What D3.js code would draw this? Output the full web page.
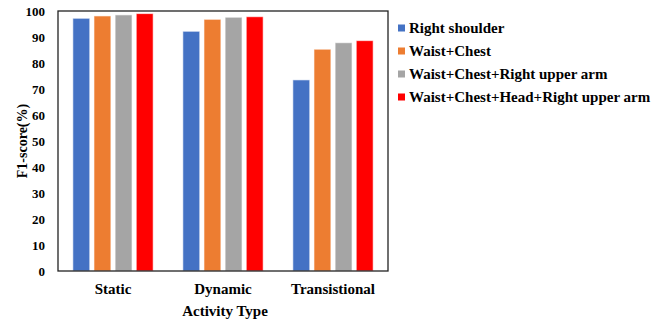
<!DOCTYPE html>
<html><head><meta charset="utf-8">
<script src="https://cdn.jsdelivr.net/npm/d3@7"></script>
<style>body{margin:0;background:#fff}svg{display:block}svg text{font-family:'Liberation Serif',serif !important;font-weight:bold;fill:#000}</style>
</head><body><svg id="c" width="665" height="323"></svg>
<script>
const categories = ["Static", "Dynamic", "Transistional"];
const seriesNames = ["Right shoulder", "Waist+Chest", "Waist+Chest+Right upper arm", "Waist+Chest+Head+Right upper arm"];
const seriesColors = ["#4472C4", "#ED7D31", "#A5A5A5", "#FF0000"];
const rightShoulder = [97.2, 92.2, 73.5];
const waistChest = [98.1, 96.8, 85.3];
const waistChestArm = [98.5, 97.6, 87.8];
const waistChestHeadArm = [99.0, 97.8, 88.6];
const yTicks = [0, 10, 20, 30, 40, 50, 60, 70, 80, 90, 100];
const seriesValues = [rightShoulder, waistChest, waistChestArm, waistChestHeadArm];

const FONT = "'Liberation Serif', serif";
const svg = d3.select("#c");
const m = {l: 58, t: 11, r: 388, b: 271};
const x0 = d3.scaleBand().domain(categories).range([m.l, m.r]).paddingInner(0.27).paddingOuter(0.135);
const x1 = d3.scaleBand().domain(seriesNames).range([0, x0.bandwidth()]).paddingInner(0.2).paddingOuter(0);
const y = d3.scaleLinear().domain([0, 100]).range([m.b, m.t]);

const g = svg.append("g");
categories.forEach((c, ci) => {
  seriesNames.forEach((s, si) => {
    g.append("rect")
      .attr("x", x0(c) + x1(s))
      .attr("y", y(seriesValues[si][ci]))
      .attr("width", x1.bandwidth())
      .attr("height", y(0) - y(seriesValues[si][ci]))
      .attr("fill", seriesColors[si])
      .attr("stroke", "#fff").attr("stroke-opacity", 0.6).attr("stroke-width", 1);
  });
});

svg.append("rect").attr("x", m.l).attr("y", m.t).attr("width", m.r - m.l).attr("height", m.b - m.t)
  .attr("fill", "none").attr("stroke", "#222").attr("stroke-width", 1.3);

const ya = svg.append("g").attr("transform", `translate(${m.l},0)`)
  .call(d3.axisLeft(y).tickValues(yTicks).tickSize(0).tickPadding(13));
ya.attr("font-family", FONT);
ya.select(".domain").remove();
ya.selectAll("text").attr("font-family", FONT).style("font-size", "13px").style("font-weight", "bold");

const xa = svg.append("g").attr("transform", `translate(0,${m.b})`)
  .call(d3.axisBottom(x0).tickSize(0).tickPadding(12));
xa.attr("font-family", FONT);
xa.select(".domain").remove();
xa.selectAll("text").attr("font-family", FONT).style("font-size", "15px").style("font-weight", "bold");

svg.append("text").attr("x", (m.l + m.r) / 2 + 2).attr("y", 316).attr("text-anchor", "middle")
  .attr("font-family", FONT).style("font-size", "15px").text("Activity Type");
svg.append("text").attr("transform", "translate(27,141) rotate(-90)").attr("text-anchor", "middle")
  .attr("font-family", FONT).style("font-size", "14px").text("F1-score(%)");

const lg = svg.append("g");
seriesNames.forEach((s, i) => {
  const cy = 28 + i * 23;
  lg.append("rect").attr("x", 398).attr("y", cy - 3.5).attr("width", 7).attr("height", 7).attr("fill", seriesColors[i]);
  lg.append("text").attr("x", 409).attr("y", cy + 5).attr("font-family", FONT).style("font-size", "15px").text(s);
});
</script></body></html>
